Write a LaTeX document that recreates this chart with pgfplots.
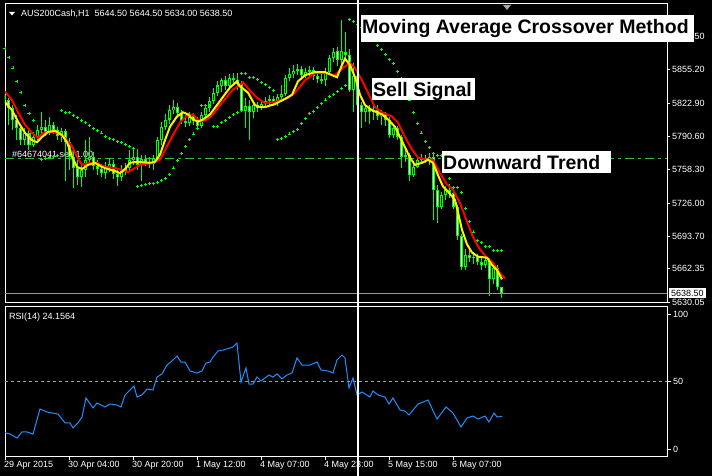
\documentclass[border=0pt]{standalone}
\usepackage{fontspec}
\setmainfont{Liberation Sans}
\usepackage{pgfplots}
\usepackage{pgfplotstable}
\pgfplotsset{compat=1.18}
\definecolor{mtlime}{RGB}{0,255,0}
\definecolor{mtblue}{RGB}{30,144,255}
\definecolor{mtorder}{RGB}{50,190,50}
\definecolor{mtgray}{RGB}{150,150,150}
\newcommand\mt{\fontsize{9pt}{10pt}\selectfont}
\newcommand\bigbox{\fontsize{19.5pt}{22pt}\selectfont\bfseries}

\pgfplotstableread{
i O H L C
0 5831 5836 5822 5826
1 5826 5828 5802 5818
2 5818 5821 5797 5807
3 5807 5811 5787 5799
4 5799 5802 5782 5787
5 5787 5799 5782 5794
6 5794 5797 5778 5782
7 5782 5795 5780 5790
8 5790 5802 5787 5797
9 5797 5814 5792 5800
10 5800 5807 5791 5795
11 5795 5809 5792 5802
12 5802 5805 5793 5797
13 5797 5800 5787 5791
14 5791 5799 5785 5796
15 5796 5798 5747 5785
16 5785 5789 5758 5771
17 5771 5778 5741 5760
18 5760 5768 5744 5751
19 5751 5765 5742 5758
20 5758 5787 5751 5768
21 5768 5790 5763 5771
22 5771 5776 5758 5762
23 5762 5768 5753 5759
24 5759 5764 5751 5755
25 5755 5766 5749 5760
26 5760 5770 5756 5764
27 5764 5768 5749 5754
28 5754 5758 5743 5751
29 5751 5763 5747 5757
30 5757 5765 5753 5760
31 5760 5778 5756 5768
32 5768 5780 5763 5771
33 5771 5778 5758 5763
34 5763 5773 5747 5769
35 5769 5773 5762 5766
36 5766 5771 5760 5764
37 5764 5773 5758 5770
38 5770 5790 5768 5787
39 5787 5805 5782 5800
40 5800 5812 5797 5807
41 5807 5821 5803 5816
42 5816 5826 5812 5819
43 5819 5823 5809 5813
44 5813 5816 5803 5806
45 5806 5811 5800 5804
46 5804 5814 5801 5810
47 5810 5813 5802 5806
48 5806 5810 5799 5801
49 5801 5814 5799 5811
50 5811 5822 5809 5818
51 5818 5829 5814 5825
52 5825 5838 5822 5833
53 5833 5844 5830 5840
54 5840 5847 5834 5845
55 5845 5849 5836 5840
56 5840 5851 5838 5847
57 5847 5852 5842 5845
58 5845 5852 5836 5842
59 5842 5844 5814 5815
60 5815 5828 5799 5820
61 5820 5826 5787 5814
62 5814 5823 5809 5821
63 5821 5824 5814 5818
64 5818 5826 5816 5822
65 5822 5829 5818 5825
66 5825 5831 5821 5827
67 5827 5830 5820 5823
68 5823 5832 5820 5829
69 5829 5840 5826 5832
70 5832 5850 5830 5847
71 5847 5857 5844 5851
72 5851 5860 5847 5854
73 5854 5861 5850 5856
74 5856 5859 5845 5850
75 5850 5857 5847 5853
76 5853 5859 5849 5855
77 5855 5858 5845 5849
78 5849 5853 5842 5846
79 5846 5851 5841 5845
80 5845 5857 5840 5853
81 5853 5870 5851 5867
82 5867 5876 5863 5873
83 5873 5877 5859 5865
84 5865 5904 5858 5873
85 5873 5892 5867 5870
86 5870 5875 5834 5836
87 5836 5862 5814 5849
88 5849 5853 5816 5821
89 5821 5824 5799 5814
90 5814 5822 5805 5818
91 5818 5821 5803 5814
92 5814 5822 5807 5816
93 5816 5821 5807 5810
94 5810 5816 5802 5813
95 5813 5814 5801 5807
96 5807 5809 5789 5792
97 5792 5802 5789 5799
98 5799 5801 5787 5790
99 5790 5792 5760 5771
100 5771 5778 5766 5773
101 5773 5775 5747 5753
102 5753 5766 5751 5761
103 5761 5772 5760 5768
104 5768 5774 5765 5770
105 5770 5773 5765 5768
106 5768 5775 5763 5771
107 5771 5773 5710 5739
108 5739 5744 5707 5722
109 5722 5737 5720 5734
110 5734 5743 5729 5739
111 5739 5744 5731 5736
112 5736 5739 5720 5722
113 5722 5724 5690 5694
114 5694 5696 5661 5664
115 5664 5681 5661 5676
116 5676 5681 5669 5673
117 5673 5679 5667 5674
118 5674 5677 5666 5669
119 5669 5673 5661 5666
120 5666 5675 5663 5671
121 5671 5673 5636 5652
122 5652 5669 5648 5663
123 5663 5666 5642 5645
124 5644.5 5644.5 5634 5638.5
}\candles

\begin{document}
\begin{tikzpicture}
\useasboundingbox (0,0) rectangle (712pt,476pt);
\fill[black] (0,0) rectangle (712pt,476pt);
\node[anchor=base west, inner sep=0pt, text=white, font=\mt] at (12pt,318.7pt) {\#64674041 sell 1.00};

\begin{axis}[
  at={(5pt,174pt)}, anchor=south west, scale only axis, width=662pt, height=299pt,
  xmin=0, xmax=165.5, ymin=5630.05, ymax=5920,
  axis line style={white}, tick style={white, line width=0.8pt},
  tick align=outside, major tick length=3pt,
  xtick=\empty, ytick pos=right, yticklabel pos=right,
  ytick={5630.05,5662.35,5693.70,5726.00,5758.30,5790.60,5822.90,5855.20,5887.50},
  yticklabels={5630.05,5662.35,5693.70,5726.00,5758.30,5790.60,5822.90,5855.20,5887.50},
  yticklabel style={font=\mt, text=white, inner xsep=2pt},
]
\addplot[mtorder, line width=1pt, dash pattern=on 9pt off 4pt on 3pt off 4pt] coordinates {(0,5769) (165.5,5769)};
\addplot[mtgray, line width=1pt] coordinates {(0,5638.5) (165.5,5638.5)};
% wicks
\addplot[draw=none, forget plot, error bars/.cd, y dir=both, y explicit, error mark=none,
  error bar style={draw=mtlime, line width=1pt}]
  table[x=i, y expr={(\thisrow{H}+\thisrow{L})/2}, y error expr={(\thisrow{H}-\thisrow{L})/2}] {\candles};
% bodies
\addplot[draw=none, forget plot, error bars/.cd, y dir=both, y explicit, error mark=none,
  error bar style={draw=mtlime, line width=3pt}]
  table[x=i, y expr={(\thisrow{O}+\thisrow{C})/2}, y error expr={max(abs(\thisrow{C}-\thisrow{O})/2,0.6)}] {\candles};
% bull interiors
\addplot[draw=none, forget plot, restrict expr to domain={\thisrow{C}-\thisrow{O}}{2.5:1000},
  error bars/.cd, y dir=both, y explicit, error mark=none,
  error bar style={draw=black, line width=1pt}]
  table[x=i, y expr={(\thisrow{O}+\thisrow{C})/2}, y error expr={abs(\thisrow{C}-\thisrow{O})/2-1}] {\candles};
% bear interiors
\addplot[draw=none, forget plot, restrict expr to domain={\thisrow{O}-\thisrow{C}}{2.5:1000},
  error bars/.cd, y dir=both, y explicit, error mark=none,
  error bar style={draw=white, line width=1pt}]
  table[x=i, y expr={(\thisrow{O}+\thisrow{C})/2}, y error expr={abs(\thisrow{C}-\thisrow{O})/2-1}] {\candles};
% slow MA
\addplot[red, line width=2pt] coordinates {
(0,5834) (1.75,5826) (3.25,5814) (5,5802) (6.75,5794) (8.25,5789) (9.5,5794) (11.25,5795)
(13.25,5794) (15,5789) (16.75,5781) (18,5771) (19.25,5763) (21.25,5765) (23,5765) (25,5761)
(27.5,5760) (29.25,5758) (30.75,5756) (32.5,5760) (33.75,5763) (37,5765) (38.75,5768)
(40.5,5781) (42,5792) (43.75,5804) (45.5,5811) (47,5812) (48.75,5805) (50.5,5807) (52,5812)
(53.75,5821) (55.5,5829) (57,5836) (58.25,5839) (59.5,5843) (61.25,5835) (63,5828) (65,5823)
(67.5,5824) (70.75,5828) (72.5,5833) (75,5845) (77.5,5852) (80,5852) (82.5,5850) (84.5,5857)
(86.25,5862) (87.5,5857) (89.25,5845) (90.75,5833) (92.5,5819) (94.25,5814) (96.75,5810)
(98.25,5804) (100,5790) (101.75,5778) (103.25,5770) (105.5,5768) (107,5768) (108.75,5755)
(110.5,5744) (112,5739) (113.75,5726) (115.5,5708) (117,5693) (118.75,5681) (120.5,5673)
(122,5668) (123.75,5658) (125,5653)};
% fast MA
\addplot[yellow, line width=2pt] coordinates {
(0,5824) (1.75,5816) (3.25,5805) (5,5794) (6.75,5787) (8,5785) (9.25,5790) (10.75,5795)
(12.5,5796) (14.25,5792) (15.5,5785) (16.75,5771) (18,5761) (19.25,5759) (20.75,5763)
(22.5,5765) (24.25,5761) (25.75,5759) (27.5,5757) (28.75,5755) (30,5759) (31.25,5765)
(33,5766) (36.25,5765) (37.5,5766) (38.75,5773) (40,5787) (41.25,5800) (43,5810) (44.5,5814)
(45.75,5812) (47,5807) (48.25,5805) (49.5,5807) (51.25,5812) (53,5821) (54.5,5829)
(56.25,5838) (58,5844) (58.75,5839) (59.5,5837) (60.75,5833) (62.5,5821) (63.75,5819)
(65,5819) (67.5,5822) (70,5827) (71.75,5831) (73.25,5844) (75,5850) (77.5,5853) (80,5853)
(81.75,5850) (83,5848) (84.25,5860) (85,5866) (86.25,5860) (87.5,5848) (88.75,5831)
(90,5821) (91.75,5816) (94.25,5812) (95.75,5807) (97.5,5800) (98.75,5790) (100,5780)
(101.25,5770) (102.5,5763) (104.25,5765) (105.75,5768) (107,5765) (108.25,5753)
(109.5,5742) (110.75,5737) (112.5,5729) (113.25,5717) (114.25,5700) (115.5,5686)
(116.75,5678) (118.25,5674) (120.5,5673) (121.75,5666) (123,5661) (124.25,5652)};
% parabolic SAR
\addplot[only marks, mark=+, mark size=1.5pt, mtlime, mark options={line width=0.8pt}] coordinates {
(0,5876)(1,5867)(2,5857)(3,5844)(4,5833)(5,5821)(6,5813)(7,5806)
(9,5768)(10,5769)(11,5770)(12,5771)(13,5772)
(14,5816)(15,5814)(16,5814)(17,5811)(18,5809)(19,5806)(20,5804)(21,5801)(22,5798)(23,5796)
(24,5794)(25,5791)(26,5789)(27,5788)(28,5786)(29,5785)(30,5783)(31,5781)(32,5779)
(33,5742)(34,5743)(35,5744)(36,5745)(37,5745)(38,5746)(39,5748)(40,5750)(41,5754)(42,5760)
(43,5767)(44,5774)(45,5781)(46,5788)(47,5793)(48,5798)
(49,5821)(50,5821)(51,5821)
(52,5800)(53,5800)(54,5804)(55,5806)(56,5809)(57,5812)(58,5814)
(59,5852)(60,5852)(61,5848)(62,5848)(63,5846)(64,5843)(65,5841)(66,5838)(67,5835)
(68,5788)(69,5789)(70,5791)(71,5793)(72,5795)(73,5797)(74,5803)(75,5808)(76,5813)(77,5815)
(78,5819)(79,5823)(80,5826)(81,5829)(82,5831)(83,5834)(84,5837)(85,5840)
(86,5904)(87,5902)(88,5899)(89,5896)(90,5893)(91,5889)(92,5884)(93,5879)(94,5875)(95,5870)
(96,5865)(97,5861)(98,5854)(99,5847)(100,5838)(101,5826)(102,5814)(103,5803)(104,5794)
(105,5786)(106,5780)(107,5774)(108,5772)(109,5772)(110,5760)(111,5750)(112,5741)(113,5741)
(114,5736)(115,5721)(116,5708)(117,5698)(118,5690)(119,5688)(120,5684)(121,5684)(122,5680)
(123,5680)(124,5680)};
\end{axis}

\begin{axis}[
  at={(5pt,20pt)}, anchor=south west, scale only axis, width=662pt, height=150pt,
  xmin=0, xmax=165.5, ymin=-5.19, ymax=105.93,
  axis line style={white}, tick style={white, line width=0.8pt},
  tick align=outside, major tick length=4pt,
  ytick={0,50,100}, yticklabels={0,50,100}, ytick pos=right, yticklabel pos=right,
  yticklabel style={font=\mt, text=white, inner xsep=2pt},
  xtick={0,16,32,48,64,80,96,112}, xtick pos=left,
  xticklabels={29 Apr 2015, 30 Apr 04:00, 30 Apr 20:00, 1 May 12:00, 4 May 07:00, 4 May 23:00, 5 May 15:00, 6 May 07:00},
  xticklabel style={font=\mt, text=white, anchor=north west, inner xsep=0pt, inner ysep=1.5pt, xshift=-1pt},
]
\addplot[gray!75, line width=1pt, dash pattern=on 3pt off 3pt] coordinates {(0,50) (165.5,50)};
\addplot[mtblue, line width=1pt] coordinates {
(0,12.1) (1.25,11.1) (3,8.1) (4.25,12.6) (5.5,12.6) (7,11.1) (8.75,29.6) (10.5,27.4)
(13.25,25.9) (15,19.3) (16.25,19.3) (17,15.6) (18.25,19.3) (19.25,23.7) (20.25,37.8)
(22,30.4) (23,34.1) (25,31.1) (26.25,33.3) (28,32.6) (29,31.1) (30,40) (31.75,45.2)
(32.25,46.7) (33,38.5) (34.25,40) (35.5,44.4) (37,43.7) (38,53.3) (39.25,55.6) (40.5,62.2)
(41.75,65.2) (43,68.9) (44,64.4) (45,64.4) (46.25,57.8) (48,56.3) (49.25,57.8) (50.25,63.7)
(51.25,64.4) (52,68.1) (53.25,72.6) (54.5,73.3) (56.25,74.8) (57,75.6) (58,78.5) (59,49.6)
(60.25,60) (61,48.1) (62,48.1) (63,53.3) (64,50.4) (65,52.6) (66,54.8) (67,53.3) (68,55.6)
(69.25,51.9) (70.5,54.8) (71.75,56.3) (73,67.4) (74.25,62.2) (76.25,62.2) (78,64.4)
(79,58.5) (80.75,57.8) (82,56.3) (83,65.9) (84.25,69.6) (85,67.4) (86,45.2) (87,52.6)
(88,40) (89.25,42.2) (91.25,38.5) (92,43) (93.25,40) (95,38.5) (96,33.3) (97,37.8)
(98.75,28.9) (100,28.1) (101,25.2) (103.25,33.3) (105.75,36.3) (108,22.2) (110.25,31.1)
(112,26.7) (114,16.3) (115.5,23) (117,24.4) (118.25,22.2) (120,24.4) (121,20) (122.25,26.7)
(123,23.7) (124.25,24.2)};
\end{axis}

% header texts
\fill[white] (9pt,464pt) -- (15pt,464pt) -- (12pt,460.5pt) -- cycle;
\node[anchor=base west, inner sep=0pt, text=white, font=\mt] at (21pt,459.3pt) {AUS200Cash,H1\ \ 5644.50 5644.50 5634.00 5638.50};
\node[anchor=base west, inner sep=0pt, text=white, font=\mt] at (9pt,156.7pt) {RSI(14) 24.1564};
\fill[gray!70] (503pt,471pt) -- (511pt,471pt) -- (507pt,466pt) -- cycle;
% current price label
\node[fill=white, text=black, font=\mt, anchor=west, inner xsep=2pt, inner ysep=1.5pt] at (669pt,183pt) {5638.50};
% vertical line
\draw[white, line width=2pt] (358pt,0pt) -- (358pt,476pt);
% annotation boxes
\fill[white] (361pt,434pt) rectangle (694pt,461pt);
\node[anchor=base west, inner sep=0pt, text=black, font=\bigbox] at (362pt,442.5pt) {Moving Average Crossover Method};
\fill[white] (372pt,376pt) rectangle (475pt,398pt);
\node[anchor=base west, inner sep=0pt, text=black, font=\bigbox] at (373pt,379.5pt) {Sell Signal};
\fill[white] (442pt,303pt) rectangle (611pt,325pt);
\node[anchor=base west, inner sep=0pt, text=black, font=\bigbox] at (443pt,306pt) {Downward Trend};
\end{tikzpicture}
\end{document}
